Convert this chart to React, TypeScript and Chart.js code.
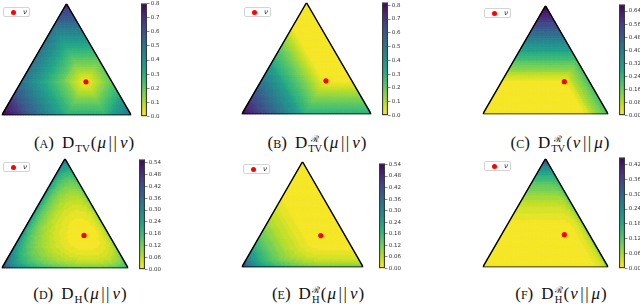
import React, { useEffect, useRef } from 'react';
import { Chart, registerables } from 'chart.js';
Chart.register(...registerables);

// ---------------- data ----------------
// reference distribution ν over the three outcomes [bottom-left, bottom-right, top]
const NU = [0.2, 0.5, 0.3];
const PANEL_IDS = ['A', 'B', 'C', 'D', 'E', 'F'];
const PANEL_KINDS = ['tv', 'tvR', 'tvRrev', 'h', 'hR', 'hRrev'];
const PANEL_SUPS = ['', 'ℛ', 'ℛ', '', 'ℛ', 'ℛ'];
const PANEL_SUBS = ['TV', 'TV', 'TV', 'H', 'H', 'H'];
const PANEL_ARGS = [['μ', 'ν'], ['μ', 'ν'], ['ν', 'μ'], ['μ', 'ν'], ['μ', 'ν'], ['ν', 'μ']];
const LEGEND_LABEL = 'ν';
const CB_MAX = [0.8, 0.82, 0.68, 0.555, 0.545, 0.448];
const TICKS_TV = [0, 0.1, 0.2, 0.3, 0.4, 0.5, 0.6, 0.7, 0.8];
const TICKS_TV_REV = [0, 0.08, 0.16, 0.24, 0.32, 0.4, 0.48, 0.56, 0.64];
const TICKS_H = [0, 0.06, 0.12, 0.18, 0.24, 0.3, 0.36, 0.42, 0.48, 0.54];
const TICKS_H_REV = [0, 0.06, 0.12, 0.18, 0.24, 0.3, 0.36, 0.42];
const LABELS_TV = ['0.0', '0.1', '0.2', '0.3', '0.4', '0.5', '0.6', '0.7', '0.8'];
const LABELS_TV_REV = ['0.00', '0.08', '0.16', '0.24', '0.32', '0.40', '0.48', '0.56', '0.64'];
const LABELS_H = ['0.00', '0.06', '0.12', '0.18', '0.24', '0.30', '0.36', '0.42', '0.48', '0.54'];
const LABELS_H_REV = ['0.00', '0.06', '0.12', '0.18', '0.24', '0.30', '0.36', '0.42'];
const CB_TICKS = [TICKS_TV, TICKS_TV, TICKS_TV_REV, TICKS_H, TICKS_H, TICKS_H_REV];
const CB_LABELS = [LABELS_TV, LABELS_TV, LABELS_TV_REV, LABELS_H, LABELS_H, LABELS_H_REV];

// ---------------- layout ----------------
// triangle: [left x of base, y of base, base width]
const TRI_BOX = [[1, 116, 131], [241, 115, 131], [482, 115, 127], [1, 269, 128], [241, 268, 123], [482, 268, 127]];
// colorbar: [x, top, bottom, width]
const CB_BOX = [[141, 3, 117, 6], [382, 2, 116, 6], [619, 4, 116, 6], [138.5, 159, 270, 6], [379, 163, 269, 5.5], [619, 157, 269, 5.5]];
const LEG_BOX = [[3, 7], [244, 7], [484, 8], [3, 162], [243, 164], [484, 161]];
const CAP_POS = [[84, 143], [317, 143], [560, 143], [80, 294], [318, 294], [561, 294]];
const GRID_N = 48;
const LEVELS = 40;
const S3 = Math.sqrt(3) / 2;

const VIRIDIS = [[68, 1, 84], [72, 36, 117], [65, 68, 135], [53, 95, 141], [42, 120, 142], [33, 145, 140], [34, 168, 132], [68, 191, 112], [122, 209, 81], [189, 223, 38], [253, 231, 37]];
function viridisR(t: number) {
  t = 1 - Math.min(1, Math.max(0, t));
  const x = t * 10;
  const i = Math.min(9, Math.floor(x));
  const f = x - i;
  const a = VIRIDIS[i], b = VIRIDIS[i + 1];
  const c = [0, 1, 2].map(k => Math.round(a[k] + (b[k] - a[k]) * f));
  return `rgb(${c[0]},${c[1]},${c[2]})`;
}
function levelColor(v: number, vmax: number) {
  let k = Math.floor((v / vmax) * LEVELS);
  if (k >= LEVELS) k = LEVELS - 1;
  if (k < 0) k = 0;
  return viridisR((k + 0.5) / LEVELS);
}

function hellR(mu: number[], sLo: number, sHi: number, tLo: number, tHi: number) {
  const g = (s: number, t: number) =>
    Math.sqrt(mu[0] * s) + Math.sqrt(mu[1] * Math.max(t - s, 0)) + Math.sqrt(mu[2] * Math.max(1 - t, 0));
  const inner = (t: number) => {
    let lo = sLo, hi = Math.min(sHi, t);
    if (hi < lo) return -1e9;
    for (let k = 0; k < 28; k++) {
      const m1 = lo + (hi - lo) / 3, m2 = hi - (hi - lo) / 3;
      if (g(m1, t) < g(m2, t)) lo = m1; else hi = m2;
    }
    return g((lo + hi) / 2, t);
  };
  let lo = tLo, hi = tHi;
  for (let k = 0; k < 28; k++) {
    const m1 = lo + (hi - lo) / 3, m2 = hi - (hi - lo) / 3;
    if (inner(m1) < inner(m2)) lo = m1; else hi = m2;
  }
  return Math.max(0, 1 - inner((lo + hi) / 2));
}

function divergence(kind: string, mu: number[]) {
  const [a, b] = mu;
  if (kind === 'tv') return 0.5 * (Math.abs(mu[0] - NU[0]) + Math.abs(mu[1] - NU[1]) + Math.abs(mu[2] - NU[2]));
  if (kind === 'tvR') return Math.max(a - NU[0], a + b - NU[0] - NU[1], 0);
  if (kind === 'tvRrev') return Math.max(NU[0] - a, NU[0] + NU[1] - a - b, 0);
  if (kind === 'h') return 1 - (Math.sqrt(mu[0] * NU[0]) + Math.sqrt(mu[1] * NU[1]) + Math.sqrt(mu[2] * NU[2]));
  if (kind === 'hR') {
    if (a <= NU[0] && a + b <= NU[0] + NU[1]) return 0;
    return hellR(mu, 0, NU[0], 0, NU[0] + NU[1]);
  }
  if (a >= NU[0] && a + b >= NU[0] + NU[1]) return 0;
  return hellR(mu, NU[0], 1, NU[0] + NU[1], 1);
}

function buildCells(i: number) {
  const kind = PANEL_KINDS[i];
  const vmax = CB_MAX[i];
  const N = GRID_N;
  const up: { x: number; y: number }[] = [], upC: string[] = [];
  const dn: { x: number; y: number }[] = [], dnC: string[] = [];
  for (let q = 0; q < N; q++) {
    for (let p = 0; p < N - q; p++) {
      let b = (p + 1 / 3) / N, c = (q + 1 / 3) / N;
      up.push({ x: b + c / 2, y: c * S3 });
      upC.push(levelColor(divergence(kind, [1 - b - c, b, c]), vmax));
      if (p + q <= N - 2) {
        b = (p + 2 / 3) / N; c = (q + 2 / 3) / N;
        dn.push({ x: b + c / 2, y: c * S3 });
        dnC.push(levelColor(divergence(kind, [1 - b - c, b, c]), vmax));
      }
    }
  }
  return { up, upC, dn, dnC };
}

function makeTriangle(canvas: HTMLCanvasElement, i: number) {
  const W = TRI_BOX[i][2];
  const r = W / GRID_N / Math.sqrt(3);
  const { up, upC, dn, dnC } = buildCells(i);
  return new Chart(canvas, {
    type: 'scatter',
    data: {
      datasets: [
        { data: [{ x: NU[1] + NU[2] / 2, y: NU[2] * S3 }], pointRadius: 2.6, pointBackgroundColor: '#ff0000', pointBorderWidth: 0, order: 0 } as any,
        {
          data: [{ x: 0, y: 0 }, { x: 1, y: 0 }, { x: 0.5, y: S3 }, { x: 0, y: 0 }, { x: 1, y: 0 }],
          showLine: true, borderColor: '#000', borderWidth: 1.4, pointRadius: 0, fill: false, borderJoinStyle: 'miter', order: 1,
        } as any,
        { data: up, pointStyle: 'triangle', pointRotation: 0, pointRadius: r, pointBackgroundColor: upC, pointBorderColor: upC, pointBorderWidth: 0.7, order: 2 } as any,
        { data: dn, pointStyle: 'triangle', pointRotation: 180, pointRadius: r, pointBackgroundColor: dnC, pointBorderColor: dnC, pointBorderWidth: 0.7, order: 3 } as any,
      ],
    },
    options: {
      responsive: false,
      animation: false,
      events: [],
      layout: { padding: 4 },
      plugins: { legend: { display: false }, tooltip: { enabled: false } },
      scales: {
        x: { type: 'linear', min: 0, max: 1, display: false },
        y: { type: 'linear', min: 0, max: S3, display: false },
      },
    },
  });
}

function makeColorbar(canvas: HTMLCanvasElement, i: number) {
  const vmax = CB_MAX[i];
  const NB = 60;
  const bands: any[] = [];
  for (let k = 0; k < NB; k++) {
    const lo = (k / NB) * vmax, hi = ((k + 1) / NB) * vmax;
    bands.push({
      data: [[lo, Math.min(vmax, hi + vmax * 0.004)]], backgroundColor: viridisR((k + 0.5) / NB), borderWidth: 0,
      barPercentage: 1, categoryPercentage: 1, grouped: false, order: 1,
    });
  }
  bands.push({
    data: [[0, vmax]], backgroundColor: 'rgba(0,0,0,0)', borderColor: '#3a3a3a', borderWidth: 0.8, borderSkipped: false,
    barPercentage: 1, categoryPercentage: 1, grouped: false, order: 0,
  });
  const ticks = CB_TICKS[i];
  const labels = CB_LABELS[i];
  return new Chart(canvas, {
    type: 'bar',
    data: { labels: [''], datasets: bands },
    options: {
      responsive: false,
      animation: false,
      events: [],
      layout: { padding: { top: 4, bottom: 4, left: 1, right: 0 } },
      plugins: { legend: { display: false }, tooltip: { enabled: false } },
      scales: {
        x: { display: false },
        y: {
          position: 'right', min: 0, max: vmax,
          afterBuildTicks: (s: any) => { s.ticks = ticks.map(v => ({ value: v })); },
          afterFit: (s: any) => { s.width = 28; },
          ticks: { autoSkip: false, font: { size: 5.5, family: '"DejaVu Sans", sans-serif' }, color: '#333', padding: 1.2, callback: (_v: any, idx: number) => labels[idx] },
          grid: { drawOnChartArea: false, drawTicks: true, tickLength: 2.5, color: '#333', lineWidth: 0.6 },
          border: { display: false },
        },
      },
    } as any,
  });
}

function Caption({ i }: { i: number }) {
  const [cx, cy] = CAP_POS[i];
  const sup = PANEL_SUPS[i];
  const sub = PANEL_SUBS[i];
  const args = PANEL_ARGS[i];
  return (
    <div style={{ position: 'absolute', left: cx - 90, width: 180, top: cy - 11, height: 22, lineHeight: '22px', textAlign: 'center', fontFamily: '"Liberation Serif", serif', fontSize: 17, color: '#111', whiteSpace: 'nowrap' }}>
      (<span style={{ fontVariant: 'small-caps' }}>{PANEL_IDS[i].toLowerCase()}</span>)
      <span style={{ display: 'inline-block', width: 8 }} />
      D
      {sup ? (
        <span style={{ display: 'inline-flex', flexDirection: 'column', verticalAlign: 'middle', fontSize: 10.5, lineHeight: '10px', marginLeft: 1 }}>
          <span style={{ fontFamily: '"DejaVu Serif", serif', fontSize: 9 }}>{sup}</span>
          <span>{sub}</span>
        </span>
      ) : (
        <span style={{ fontSize: 11, position: 'relative', top: 4, marginLeft: 1 }}>{sub}</span>
      )}
      <span style={{ marginLeft: 1 }}>(</span>
      <i style={{ margin: '0 1px' }}>{args[0]}</i>
      <span style={{ margin: '0 1.5px', letterSpacing: 1.5 }}>||</span>
      <i style={{ margin: '0 1px 0 0' }}>{args[1]}</i>)
    </div>
  );
}

function Legend({ i }: { i: number }) {
  const [x, y] = LEG_BOX[i];
  return (
    <div style={{ position: 'absolute', left: x, top: y, width: 27, height: 10, boxSizing: 'border-box', border: '0.8px solid #d4d4d4', borderRadius: 2, background: '#fff' }}>
      <div style={{ position: 'absolute', left: 6.5, top: 2, width: 5, height: 5, borderRadius: '50%', background: '#ff0000' }} />
      <div style={{ position: 'absolute', left: 19, top: 0, fontSize: 7, lineHeight: '9px', fontStyle: 'italic', fontFamily: '"DejaVu Sans", sans-serif', color: '#222' }}>{LEGEND_LABEL}</div>
    </div>
  );
}

export default function App() {
  const triRefs = useRef<(HTMLCanvasElement | null)[]>([]);
  const cbRefs = useRef<(HTMLCanvasElement | null)[]>([]);
  useEffect(() => {
    const charts: Chart[] = [];
    for (let i = 0; i < 6; i++) {
      charts.push(makeTriangle(triRefs.current[i]!, i));
      charts.push(makeColorbar(cbRefs.current[i]!, i));
    }
    return () => charts.forEach(c => c.destroy());
  }, []);
  return (
    <div style={{ position: 'absolute', left: 0, top: 0, width: 640, height: 304, background: '#fff', overflow: 'hidden' }}>
      {PANEL_IDS.map((id, i) => {
        const [L, base, W] = TRI_BOX[i];
        const H = Math.round(W * S3);
        const tw = W + 8, th = H + 8;
        const [cx, ctop, cbot, cw] = CB_BOX[i];
        const cbw = cw + 28 + 1, cbh = cbot - ctop + 8;
        return (
          <React.Fragment key={id}>
            <canvas ref={el => { triRefs.current[i] = el; }} width={tw} height={th} style={{ position: 'absolute', left: L - 4, top: base - H - 4, width: tw, height: th }} />
            <canvas ref={el => { cbRefs.current[i] = el; }} width={Math.round(cbw)} height={cbh} style={{ position: 'absolute', left: cx - 1, top: ctop - 4, width: Math.round(cbw), height: cbh }} />
            <Legend i={i} />
            <Caption i={i} />
          </React.Fragment>
        );
      })}
    </div>
  );
}
